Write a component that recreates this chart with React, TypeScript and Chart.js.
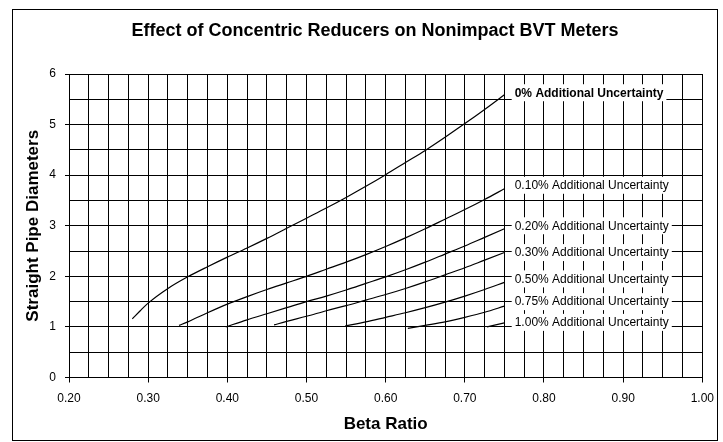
import { useEffect, useRef } from "react";
import { Chart, registerables } from "chart.js";

Chart.register(...registerables);

const FONT = '"Liberation Sans", Arial, Helvetica, sans-serif';

const titleText = "Effect of Concentric Reducers on Nonimpact BVT Meters";
const xAxisTitle = "Beta Ratio";
const yAxisTitle = "Straight Pipe Diameters";

const xTickMin = 0.2;
const xTickMax = 1.0;
const xMajorStep = 0.1;
const xMinorStep = 0.025;
const yTickMin = 0;
const yTickMax = 6;
const yMajorStep = 1;
const yMinorStep = 0.5;

// 0% additional uncertainty
const beta0 = [0.28, 0.29, 0.3, 0.325, 0.35, 0.375, 0.4, 0.425, 0.45, 0.475, 0.5, 0.525, 0.55, 0.575, 0.6, 0.625, 0.65, 0.675, 0.7, 0.725, 0.75];
const diam0 = [1.16, 1.32, 1.47, 1.76, 1.99, 2.19, 2.38, 2.56, 2.75, 2.95, 3.15, 3.35, 3.56, 3.78, 4.01, 4.25, 4.49, 4.75, 5.02, 5.3, 5.59];
// 0.10%
const beta10 = [0.339, 0.35, 0.375, 0.4, 0.425, 0.45, 0.475, 0.5, 0.525, 0.55, 0.575, 0.6, 0.625, 0.65, 0.675, 0.7, 0.725, 0.75];
const diam10 = [1.03, 1.1, 1.28, 1.45, 1.6, 1.74, 1.87, 2.0, 2.14, 2.28, 2.43, 2.59, 2.76, 2.94, 3.13, 3.32, 3.52, 3.73];
// 0.20%
const beta20 = [0.398, 0.425, 0.45, 0.475, 0.5, 0.525, 0.55, 0.575, 0.6, 0.625, 0.65, 0.675, 0.7, 0.725, 0.75];
const diam20 = [1.0, 1.14, 1.26, 1.38, 1.5, 1.61, 1.73, 1.86, 1.99, 2.13, 2.28, 2.44, 2.6, 2.77, 2.94];
// 0.30%
const beta30 = [0.459, 0.475, 0.5, 0.525, 0.55, 0.575, 0.6, 0.625, 0.65, 0.675, 0.7, 0.725, 0.75];
const diam30 = [1.04, 1.11, 1.21, 1.32, 1.42, 1.53, 1.64, 1.76, 1.89, 2.03, 2.17, 2.32, 2.47];
// 0.50%
const beta50 = [0.549, 0.575, 0.6, 0.625, 0.65, 0.675, 0.7, 0.725, 0.75];
const diam50 = [1.02, 1.1, 1.19, 1.28, 1.38, 1.49, 1.61, 1.74, 1.88];
// 0.75%
const beta75 = [0.628, 0.65, 0.675, 0.7, 0.725, 0.75];
const diam75 = [0.97, 1.03, 1.1, 1.19, 1.29, 1.41];
// 1.00%
const beta100 = [0.728, 0.75];
const diam100 = [1.0, 1.08];

const seriesNames = [
  "0% Additional Uncertainty",
  "0.10% Additional Uncertainty",
  "0.20% Additional Uncertainty",
  "0.30% Additional Uncertainty",
  "0.50% Additional Uncertainty",
  "0.75% Additional Uncertainty",
  "1.00% Additional Uncertainty",
];
const labelBeta = 0.763;
const labelDiam = [5.62, 3.79, 2.99, 2.46, 1.94, 1.49, 1.08];

const seriesBeta = [beta0, beta10, beta20, beta30, beta50, beta75, beta100];
const seriesDiam = [diam0, diam10, diam20, diam30, diam50, diam75, diam100];

const framePlugin = {
  id: "frame",
  beforeDraw(chart: any) {
    const ctx = chart.ctx;
    ctx.save();
    ctx.fillStyle = "#fff";
    ctx.fillRect(0, 0, chart.width, chart.height);
    ctx.strokeStyle = "#000";
    ctx.lineWidth = 1;
    ctx.strokeRect(12.5, 9.5, 705, 431);
    ctx.fillStyle = "#000";
    ctx.font = `bold 18px ${FONT}`;
    ctx.textAlign = "center";
    ctx.textBaseline = "middle";
    ctx.fillText(titleText, 375, 31);
    ctx.restore();
  },
};

const labelPlugin = {
  id: "seriesLabels",
  afterDatasetsDraw(chart: any) {
    const ctx = chart.ctx;
    const xs = chart.scales.x;
    const ys = chart.scales.y;
    ctx.save();
    seriesNames.forEach((t, i) => {
      ctx.font = `${i === 0 ? "bold " : ""}12px ${FONT}`;
      const px = xs.getPixelForValue(labelBeta);
      const py = ys.getPixelForValue(labelDiam[i]);
      const w = ctx.measureText(t).width;
      ctx.fillStyle = "#fff";
      ctx.fillRect(px - 3, py - 9, w + 6, 17);
      ctx.fillStyle = "#000";
      ctx.textAlign = "left";
      ctx.textBaseline = "middle";
      ctx.fillText(t, px, py);
    });
    ctx.restore();
  },
};

export default function App() {
  const ref = useRef<HTMLCanvasElement | null>(null);
  useEffect(() => {
    if (!ref.current) return;
    const datasets = seriesBeta.map((bs, i) => ({
      label: seriesNames[i],
      data: bs.map((b, j) => ({ x: b, y: seriesDiam[i][j] })),
      showLine: true,
      borderColor: "#000",
      backgroundColor: "#000",
      borderWidth: 1.2,
      pointRadius: 0,
      cubicInterpolationMode: "monotone" as const,
      fill: false,
    }));
    const chart = new Chart(ref.current, {
      type: "scatter",
      data: { datasets },
      plugins: [framePlugin, labelPlugin],
      options: {
        animation: false,
        responsive: false,
        devicePixelRatio: 1,
        layout: { padding: { left: 0, right: 20, top: 74, bottom: 0 } },
        plugins: {
          legend: { display: false },
          tooltip: { enabled: false },
          title: { display: false },
        },
        scales: {
          x: {
            type: "linear",
            position: "bottom",
            min: xTickMin,
            max: xTickMax,
            ticks: {
              stepSize: xMajorStep,
              callback: (v: any) => Number(v).toFixed(2),
              font: { family: FONT, size: 12 },
              color: "#000",
              padding: 9,
              maxRotation: 0,
              autoSkip: false,
            },
            grid: { color: "#000", lineWidth: 1, tickLength: 5, drawOnChartArea: true },
            border: { display: true, color: "#000" },
            title: {
              display: true,
              text: xAxisTitle,
              font: { family: FONT, size: 17, weight: "bold" },
              color: "#000",
              padding: { top: 0, bottom: 7.8 },
            },
            afterFit: (s: any) => {
              s.height = 442 - 377.5;
            },
          },
          x2: {
            type: "linear",
            position: "bottom",
            min: xTickMin,
            max: xTickMax,
            ticks: { stepSize: xMinorStep, display: false },
            grid: { color: "#000", lineWidth: 1, drawTicks: false },
            border: { display: false },
            afterFit: (s: any) => {
              s.height = 0;
            },
          },
          y: {
            type: "linear",
            position: "left",
            min: yTickMin,
            max: yTickMax,
            ticks: {
              stepSize: yMajorStep,
              font: { family: FONT, size: 12 },
              color: "#000",
              padding: 9,
            },
            grid: { color: "#000", lineWidth: 1, tickLength: 4 },
            border: { display: true, color: "#000" },
            title: {
              display: true,
              text: yAxisTitle,
              font: { family: FONT, size: 17, weight: "bold" },
              color: "#000",
              padding: { top: 22.8, bottom: 0 },
            },
            afterFit: (s: any) => {
              s.width = 69;
            },
          },
          y2: {
            type: "linear",
            position: "left",
            min: yTickMin,
            max: yTickMax,
            ticks: { stepSize: yMinorStep, display: false },
            grid: { color: "#000", lineWidth: 1, drawTicks: false },
            border: { display: false },
            afterFit: (s: any) => {
              s.width = 0;
            },
          },
        },
      },
    } as any);
    return () => chart.destroy();
  }, []);
  return (
    <div style={{ position: "absolute", left: 0, top: 0, width: 723, height: 442, background: "#fff" }}>
      <canvas ref={ref} width={723} height={442} style={{ display: "block" }} />
    </div>
  );
}
